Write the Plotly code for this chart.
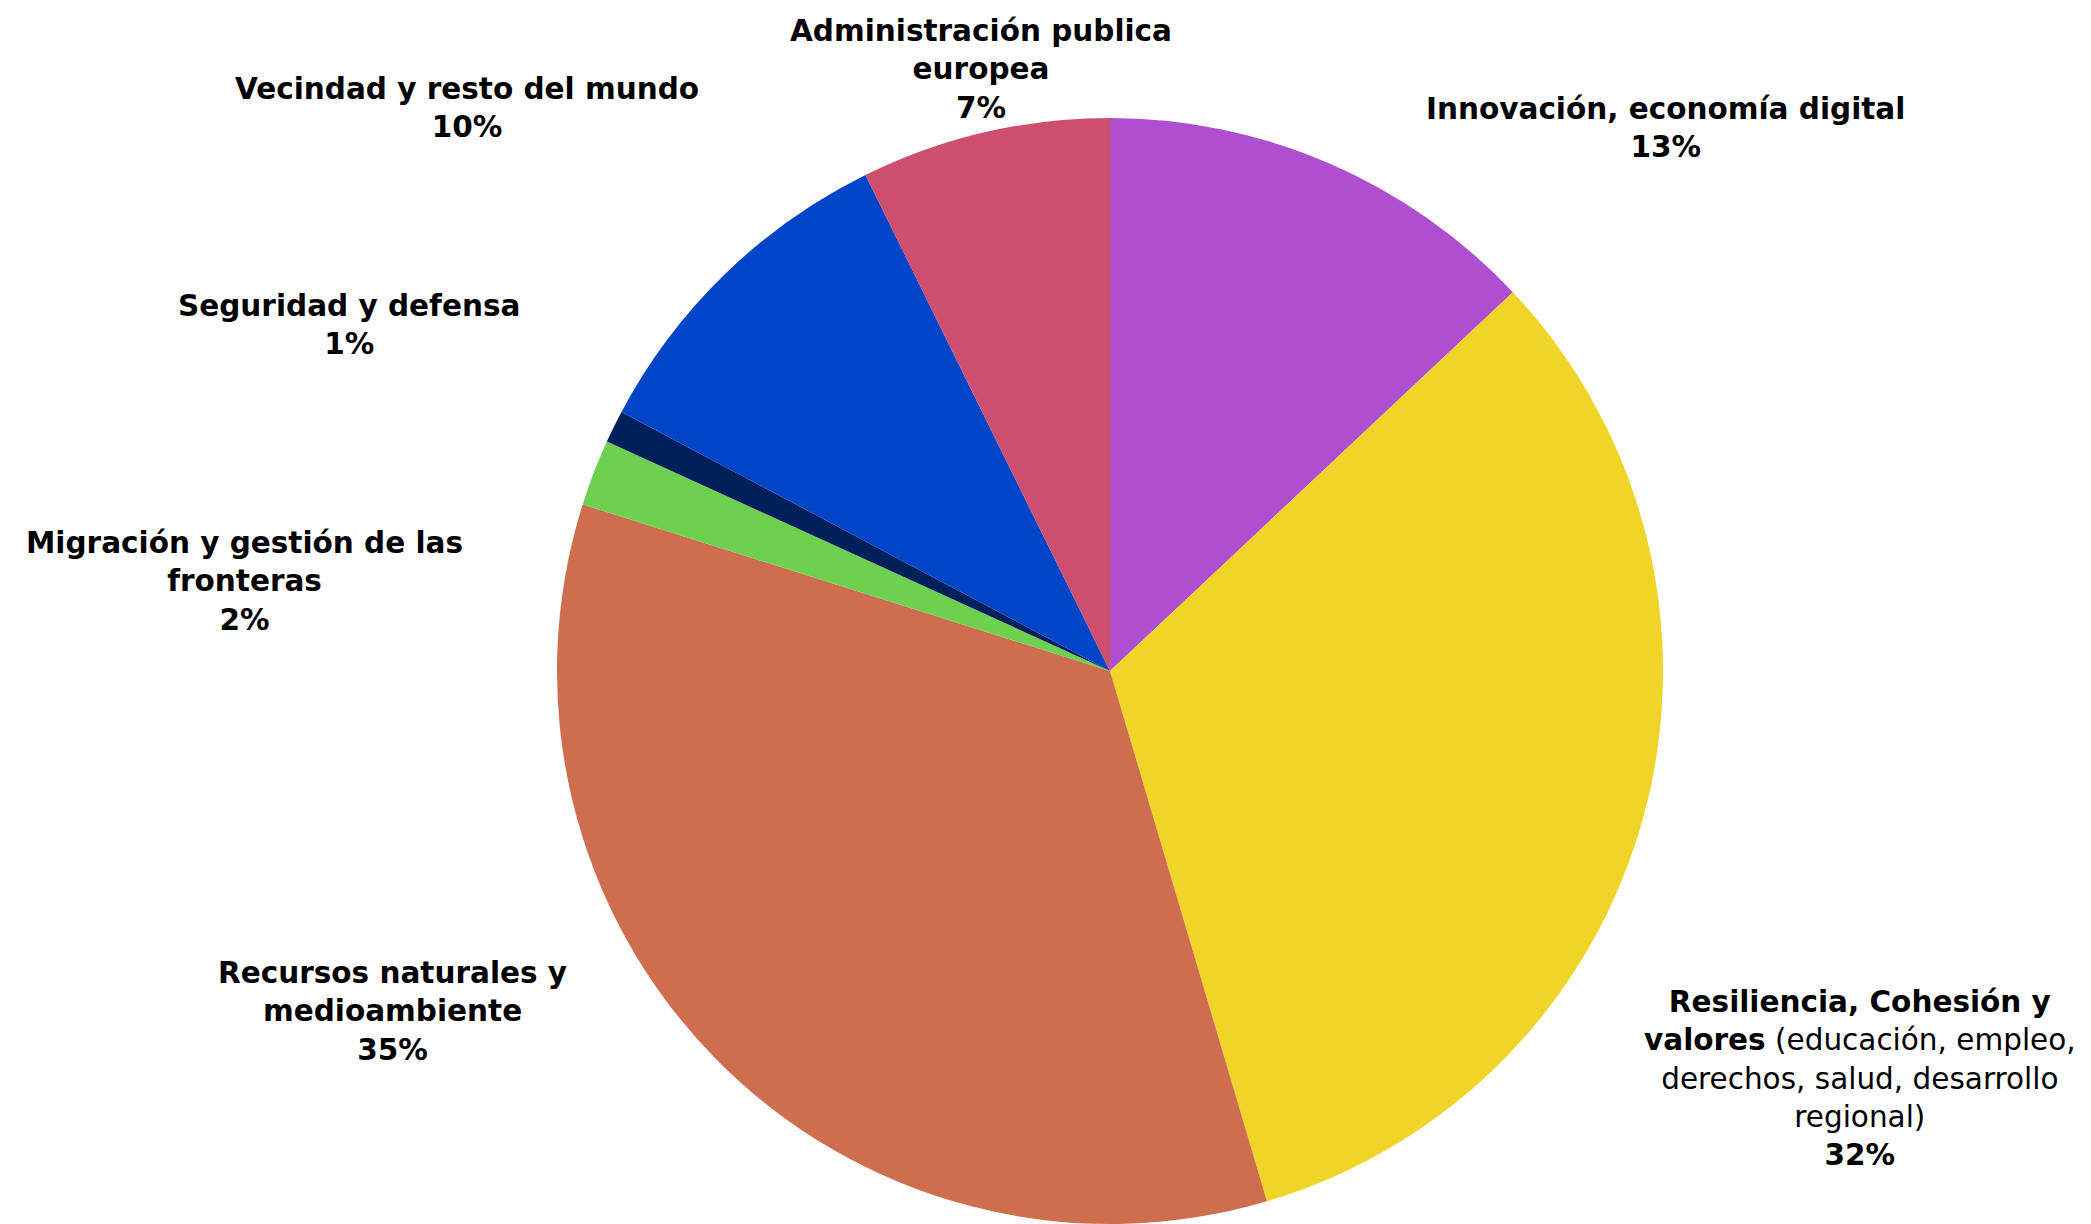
import plotly.graph_objects as go

# Data (share of budget, %)
categories = [
    "Innovación, economía digital",
    "Resiliencia, Cohesión y valores",
    "Recursos naturales y medioambiente",
    "Migración y gestión de las fronteras",
    "Seguridad y defensa",
    "Vecindad y resto del mundo",
    "Administración publica europea",
]
values = [12.99, 32.43, 34.45, 1.94, 0.95, 9.95, 7.29]
pct_labels = ["13%", "32%", "35%", "2%", "1%", "10%", "7%"]
label_texts = [
    "<b>Innovación, economía digital</b>",
    "<b>Resiliencia, Cohesión y</b><br><b>valores</b> (educación, empleo,<br>derechos, salud, desarrollo<br>regional)",
    "<b>Recursos naturales y</b><br><b>medioambiente</b>",
    "<b>Migración y gestión de las</b><br><b>fronteras</b>",
    "<b>Seguridad y defensa</b>",
    "<b>Vecindad y resto del mundo</b>",
    "<b>Administración publica</b><br><b>europea</b>",
]
colors = ["#AD4FCF", "#F0D428", "#CF6E4E", "#6ED04F", "#00205B", "#0044C8", "#CE4F6D"]

W, H = 2091, 1224
OFF = 8  # page body margin offset
# label block centres in window pixels (layout positions)
label_pos = [
    (1665, 128),
    (1860, 1078),
    (392, 1011),
    (244, 581),
    (349, 325),
    (467, 108),
    (981, 69),
]

cx, cy, r = 1110 - OFF, 671 - OFF, 553
fig = go.Figure(
    go.Pie(
        labels=categories,
        values=values,
        sort=False,
        direction="clockwise",
        rotation=0,
        marker=dict(colors=colors, line=dict(width=0)),
        textinfo="none",
        hoverinfo="label+percent",
        domain=dict(x=[(cx - r) / W, (cx + r) / W],
                    y=[(H - cy - r) / H, (H - cy + r) / H]),
        showlegend=False,
    )
)

for txt, pct, (px, py) in zip(label_texts, pct_labels, label_pos):
    fig.add_annotation(
        text=f"{txt}<br><b>{pct}</b>",
        x=(px - OFF) / W,
        y=1 - (py - OFF) / H,
        xref="paper",
        yref="paper",
        xanchor="center",
        yanchor="middle",
        align="center",
        showarrow=False,
        font=dict(family="DejaVu Sans", size=29.5, color="#000000"),
    )

fig.update_layout(
    width=W,
    height=H,
    margin=dict(l=0, r=0, t=0, b=0),
    paper_bgcolor="white",
    plot_bgcolor="white",
)

fig.write_html("out.html")
